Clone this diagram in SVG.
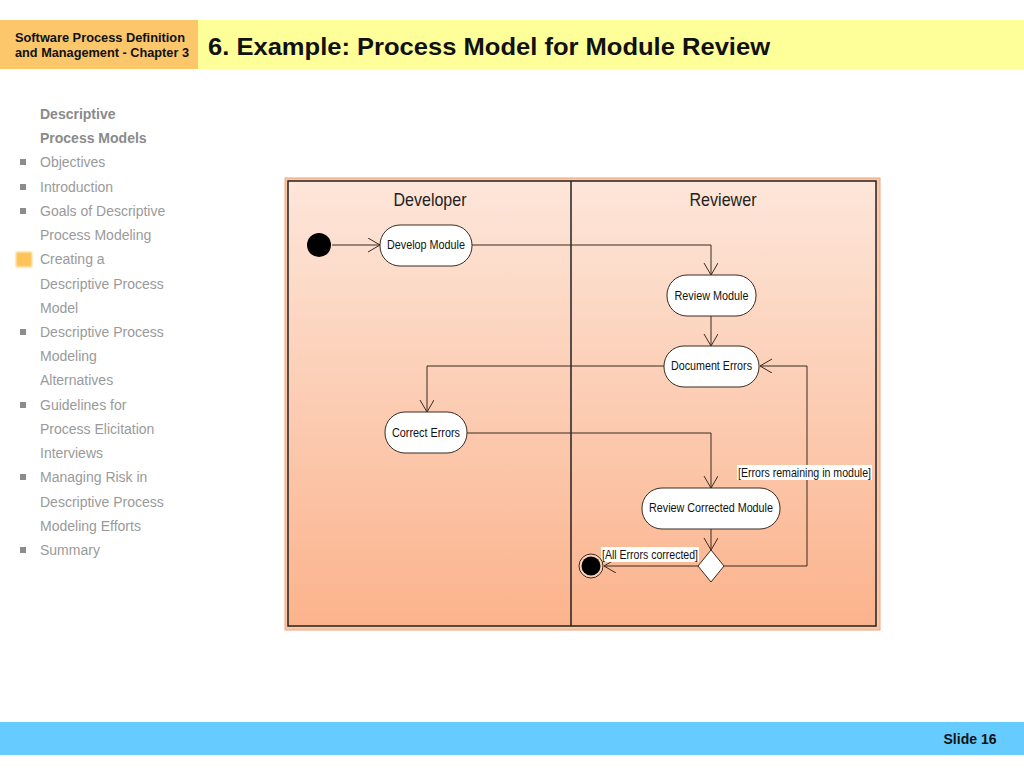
<svg xmlns="http://www.w3.org/2000/svg" width="1024" height="768" viewBox="0 0 1024 768">
<defs>
<linearGradient id="bg" x1="0" y1="0" x2="0" y2="1">
<stop offset="0" stop-color="#fde6da"/>
<stop offset="1" stop-color="#fbb38c"/>
</linearGradient>
<filter id="blur" x="-50%" y="-50%" width="200%" height="200%"><feGaussianBlur stdDeviation="1.2"/></filter>
<marker id="arr" markerUnits="userSpaceOnUse" markerWidth="14" markerHeight="16" refX="12" refY="7" orient="auto">
<path d="M0,0 L12,7 L0,14" fill="none" stroke="#3a2a20" stroke-width="1"/>
</marker>
<style>
.side{font-family:"Liberation Sans",Arial,sans-serif;font-size:14px;fill:#9a9a9a}
.sideb{font-family:"Liberation Sans",Arial,sans-serif;font-size:14px;fill:#8a8a8a;font-weight:bold}
.bul{fill:#8c8c8c}
.node rect{fill:#ffffff;stroke:#3a2a20;stroke-width:1}
.ntext{font-family:"Liberation Sans",Arial,sans-serif;font-size:12px;fill:#111;text-anchor:middle}
.lane{font-family:"Liberation Sans",Arial,sans-serif;font-size:19px;fill:#222;text-anchor:middle}
.conn{fill:none;stroke:#3a2a20;stroke-width:1}
.lbl{font-family:"Liberation Sans",Arial,sans-serif;font-size:12px;fill:#111}
</style>
</defs>
<rect width="1024" height="768" fill="#ffffff"/>
<!-- header -->
<rect x="0" y="20" width="198" height="49" fill="#fcc66a"/>
<rect x="198" y="20" width="826" height="49" fill="#ffff99"/>
<text x="15" y="42" font-family="Liberation Sans,Arial,sans-serif" font-size="12.5" font-weight="bold" fill="#111" textLength="170" lengthAdjust="spacingAndGlyphs">Software Process Definition</text>
<text x="15" y="57" font-family="Liberation Sans,Arial,sans-serif" font-size="12.5" font-weight="bold" fill="#111" textLength="174" lengthAdjust="spacingAndGlyphs">and Management - Chapter 3</text>
<text x="208" y="55" font-family="Liberation Sans,Arial,sans-serif" font-size="24" font-weight="bold" fill="#111" textLength="562" lengthAdjust="spacingAndGlyphs">6. Example: Process Model for Module Review</text>
<!-- sidebar -->
<g id="sidebar">
<text class="sideb" x="40" y="119">Descriptive</text>
<text class="sideb" x="40" y="143">Process Models</text>
<rect class="bul" x="20" y="159" width="6" height="6"/>
<text class="side" x="40" y="167">Objectives</text>
<rect class="bul" x="20" y="184" width="6" height="6"/>
<text class="side" x="40" y="192">Introduction</text>
<rect class="bul" x="20" y="208" width="6" height="6"/>
<text class="side" x="40" y="216">Goals of Descriptive</text>
<text class="side" x="40" y="240">Process Modeling</text>
<rect x="16" y="252" width="16" height="15" fill="#fcc357" filter="url(#blur)"/>
<text class="side" x="40" y="264">Creating a</text>
<text class="side" x="40" y="289">Descriptive Process</text>
<text class="side" x="40" y="313">Model</text>
<rect class="bul" x="20" y="329" width="6" height="6"/>
<text class="side" x="40" y="337">Descriptive Process</text>
<text class="side" x="40" y="361">Modeling</text>
<text class="side" x="40" y="385">Alternatives</text>
<rect class="bul" x="20" y="402" width="6" height="6"/>
<text class="side" x="40" y="410">Guidelines for</text>
<text class="side" x="40" y="434">Process Elicitation</text>
<text class="side" x="40" y="458">Interviews</text>
<rect class="bul" x="20" y="474" width="6" height="6"/>
<text class="side" x="40" y="482">Managing Risk in</text>
<text class="side" x="40" y="507">Descriptive Process</text>
<text class="side" x="40" y="531">Modeling Efforts</text>
<rect class="bul" x="20" y="547" width="6" height="6"/>
<text class="side" x="40" y="555">Summary</text>
</g>
<!-- diagram frame -->
<rect x="285" y="178" width="595" height="452" fill="#fbc8a8" stroke="#f2a37c" stroke-width="1"/>
<rect x="288" y="181" width="588" height="445" fill="url(#bg)" stroke="#222" stroke-width="1.5"/>
<line x1="571" y1="181" x2="571" y2="626" stroke="#222" stroke-width="1.5"/>
<text class="lane" x="430" y="206" textLength="73" lengthAdjust="spacingAndGlyphs">Developer</text>
<text class="lane" x="723" y="206" textLength="67" lengthAdjust="spacingAndGlyphs">Reviewer</text>
<!-- connectors -->
<g id="connectors">
<line class="conn" x1="332" y1="245" x2="380" y2="245" marker-end="url(#arr)"/>
<polyline class="conn" points="472,245 711,245 711,275" marker-end="url(#arr)"/>
<line class="conn" x1="711" y1="316" x2="711" y2="346" marker-end="url(#arr)"/>
<polyline class="conn" points="664,366 427,366 427,412" marker-end="url(#arr)"/>
<polyline class="conn" points="467,433 711,433 711,488" marker-end="url(#arr)"/>
<line class="conn" x1="711" y1="529" x2="711" y2="550" marker-end="url(#arr)"/>
<polyline class="conn" points="724,566 807,566 807,366 760,366" marker-end="url(#arr)"/>
<line class="conn" x1="698" y1="566" x2="604" y2="566" marker-end="url(#arr)"/>
<rect x="737" y="465" width="135" height="15" fill="#ffffff"/>
<text class="lbl" x="738" y="477" textLength="133" lengthAdjust="spacingAndGlyphs">[Errors remaining in module]</text>
<rect x="601" y="547" width="98" height="15" fill="#ffffff"/>
<text class="lbl" x="602" y="559" textLength="96" lengthAdjust="spacingAndGlyphs">[All Errors corrected]</text>
</g>
<!-- nodes -->
<g id="start"><circle cx="319" cy="245" r="12" fill="#000"/></g>
<g id="develop" class="node"><rect x="380" y="225" width="92" height="41" rx="20"/><text class="ntext" x="426" y="249" textLength="78" lengthAdjust="spacingAndGlyphs">Develop Module</text></g>
<g id="review" class="node"><rect x="667" y="275" width="89" height="41" rx="20"/><text class="ntext" x="711.5" y="300" textLength="74" lengthAdjust="spacingAndGlyphs">Review Module</text></g>
<g id="document" class="node"><rect x="664" y="346" width="95" height="41" rx="20"/><text class="ntext" x="711.5" y="370" textLength="81" lengthAdjust="spacingAndGlyphs">Document Errors</text></g>
<g id="correct" class="node"><rect x="385" y="412" width="82" height="41" rx="20"/><text class="ntext" x="426" y="437" textLength="68" lengthAdjust="spacingAndGlyphs">Correct Errors</text></g>
<g id="reviewcorrected" class="node"><rect x="642" y="488" width="138" height="41" rx="20"/><text class="ntext" x="711" y="512" textLength="124" lengthAdjust="spacingAndGlyphs">Review Corrected Module</text></g>
<g id="decision"><polygon points="711,550 724,566 711,582 698,566" fill="#ffffff" stroke="#3a2a20" stroke-width="1"/></g>
<g id="end"><circle cx="591" cy="566" r="12" fill="#fbd3b8" stroke="#3a2a20" stroke-width="1"/><circle cx="591" cy="566" r="9.5" fill="#000"/></g>
<!-- footer -->
<rect x="0" y="722" width="1024" height="33" fill="#66ccff"/>
<text x="970" y="744" font-family="Liberation Sans,Arial,sans-serif" font-size="14" font-weight="bold" fill="#111" text-anchor="middle">Slide 16</text>
</svg>
